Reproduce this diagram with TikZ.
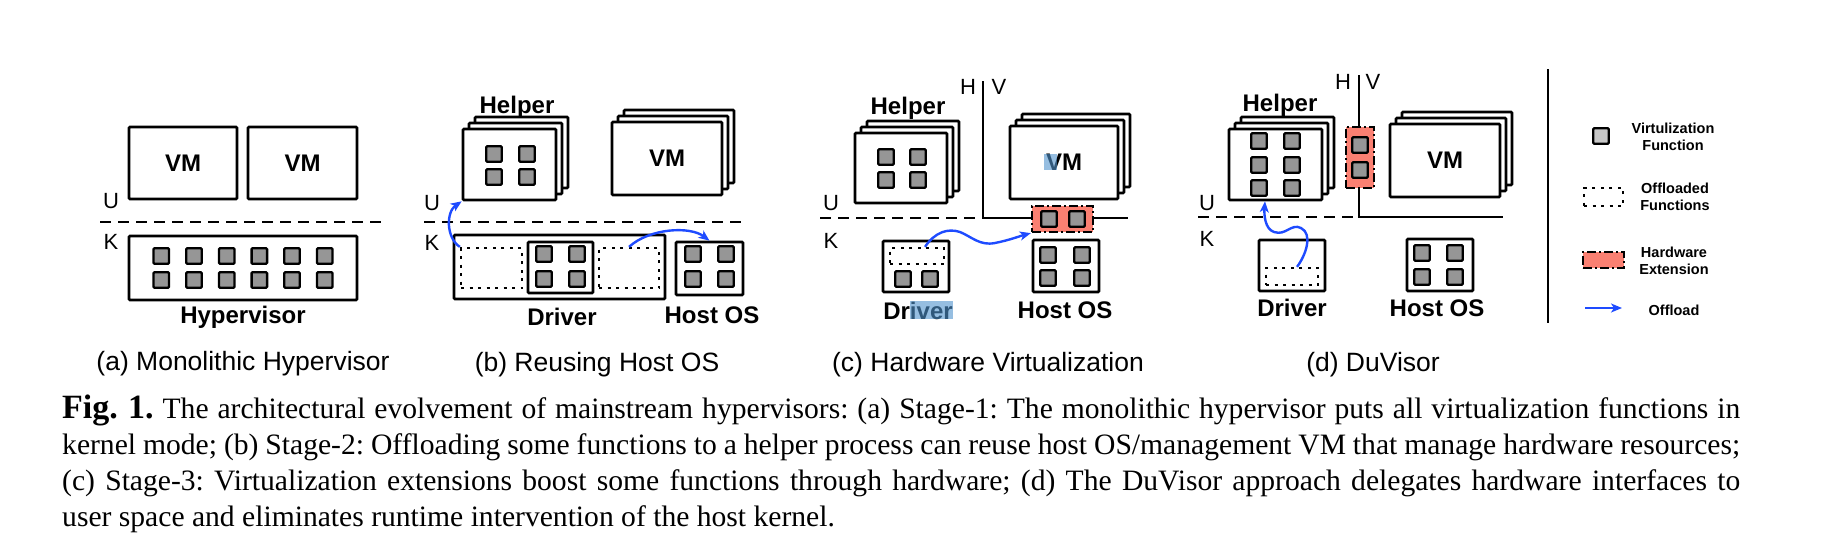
\documentclass[tikz,border=0pt]{standalone}
\usepackage{fontspec}
\setmainfont{Liberation Sans}
\newfontfamily\capfont{Liberation Serif}
\usetikzlibrary{arrows.meta}
\frenchspacing
\definecolor{fngray}{RGB}{150,150,150}
\definecolor{leggray}{RGB}{200,200,200}
\definecolor{hwred}{RGB}{250,128,114}
\definecolor{offblue}{RGB}{30,75,255}
\definecolor{hlblue}{RGB}{80,147,205}
\newcommand{\lblfont}{\fontsize{24}{28}\selectfont\bfseries}
\newcommand{\subfont}{\fontsize{26.5}{30}\selectfont}
\newcommand{\ukfont}{\fontsize{22}{26}\selectfont}
\newcommand{\legfont}{\fontsize{14.5}{17.5}\selectfont\bfseries}
\newcommand{\capsize}{\capfont\fontsize{29.6}{36}\selectfont}
\newcommand{\figlbl}{{\fontsize{34}{36}\selectfont\bfseries Fig. 1.}}
\tikzset{
  box/.style={draw, line width=2.6pt, fill=white, inner sep=0pt, rounded corners=1pt},
  fn/.style={draw, line width=2.3pt, fill=fngray, minimum size=15.5pt, inner sep=0pt, rounded corners=1pt},
  legfn/.style={fn, fill=leggray},
  dotbox/.style={draw, line width=2.3pt, dash pattern=on 3pt off 5.5pt, inner sep=0pt},
  hwbox/.style={draw, line width=2.3pt, fill=hwred, dash pattern=on 9pt off 3pt on 2pt off 3pt, inner sep=0pt},
  lbl/.style={font=\lblfont, anchor=base, inner sep=0pt},
  sub/.style={font=\subfont, anchor=base, inner sep=0pt},
  ukl/.style={font=\ukfont, anchor=base, inner sep=0pt},
  legtxt/.style={font=\legfont, align=center, inner sep=0pt},
  dashline/.style={line width=2.4pt, dash pattern=on 11pt off 7pt},
  solidline/.style={line width=2.4pt},
  offload/.style={draw=offblue, line width=2.4pt, -{Stealth[length=11pt,width=9pt,inset=3pt]}},
  hl/.style={fill=hlblue, fill opacity=0.6, draw=none},
  capline/.style={anchor=base west, inner sep=0pt, font=\capsize}
}
\newcommand{\stackbx}[6]{%
  \node[box, minimum width=#4pt, minimum height=#5pt] (#1C) at ({#2+12},{#3-12}) {};
  \node[box, minimum width=#4pt, minimum height=#5pt] (#1B) at ({#2+6},{#3-6}) {};
  \node[box, minimum width=#4pt, minimum height=#5pt, font=\lblfont] (#1) at (#2,#3) {#6};
}
\begin{document}
\begin{tikzpicture}[x=1pt,y=-1pt]
\useasboundingbox (0,0) rectangle (1823,557);

% ---------------- (a)
\node[box, minimum width=108pt, minimum height=72pt, font=\lblfont] (avm1) at (183,163) {VM};
\node[box, minimum width=109pt, minimum height=72pt, font=\lblfont] (avm2) at (302.5,163) {VM};
\coordinate (adl) at (100,222); \coordinate (adr) at (383,222);
\draw[dashline] (adl) -- (adr);
\node[box, minimum width=228pt, minimum height=64pt] (ahyp) at (243,268) {};
\foreach \i in {0,...,5} {
  \node[fn] (afa\i) at ({161.25+32.7*\i},256) {};
  \node[fn] (afb\i) at ({161.25+32.7*\i},280) {};
}
\node[lbl] (ahyplbl) at (243,323.6) {Hypervisor};
\node[ukl] (aU) at (111,208) {U};
\node[ukl] (aK) at (111,249) {K};
\node[sub] (asub) at (243,370) {(a) Monolithic Hypervisor};

% ---------------- (b)
\stackbx{bhelp}{509.5}{164.5}{93}{71}{}
\node[lbl] (bhelplbl) at (517,113.6) {Helper};
\foreach \xx/\yy [count=\k] in {494/154,527/154,494/177,527/177}
  \node[fn] (bhf\k) at (\xx,\yy) {};
\stackbx{bvm}{667}{158.5}{110}{73}{VM}
\coordinate (bdl) at (424,222); \coordinate (bdr) at (747,222);
\draw[dashline] (bdl) -- (bdr);
\node[ukl] (bU) at (432,210) {U};
\node[ukl] (bK) at (432,250) {K};
\node[box, minimum width=211pt, minimum height=64pt] (bdrv) at (559.5,267) {};
\node[dotbox, minimum width=61pt, minimum height=40pt] (bdot1) at (491.5,268) {};
\node[box, minimum width=65pt, minimum height=51pt] (binner) at (560.5,267.5) {};
\foreach \xx/\yy [count=\k] in {544/254,577/254,544/279,577/279}
  \node[fn] (bdf\k) at (\xx,\yy) {};
\node[dotbox, minimum width=60pt, minimum height=40pt] (bdot2) at (629,268) {};
\node[box, minimum width=67pt, minimum height=53pt] (bhost) at (709.5,268.5) {};
\foreach \xx/\yy [count=\k] in {693/254,726/254,693/279,726/279}
  \node[fn] (bof\k) at (\xx,\yy) {};
\node[lbl] (bdrvlbl) at (562,325.6) {Driver};
\node[lbl] (bhostlbl) at (712,323.6) {Host OS};
\draw[offload] (bdot1.north west) .. controls (446,238) and (446,212) .. (bhelp.south west);
\draw[offload] (bdot2.north) .. controls (650,228) and (690,226) .. (bhost.north);
\node[sub] (bsub) at (597,371) {(b) Reusing Host OS};

% ---------------- (c)
\coordinate (cvt) at (983,81); \coordinate (cvb) at (983,218);
\coordinate (crr) at (1128,218); \coordinate (cll) at (820,218);
\draw[dashline] (cll) -- (cvb);
\draw[solidline] (cvt) -- (cvb) -- (crr);
\node[ukl] (cH) at (968,94) {H};
\node[ukl] (cV) at (999,94) {V};
\stackbx{chelp}{901}{168}{92}{70}{}
\node[lbl] (chelplbl) at (908,114.6) {Helper};
\foreach \xx/\yy [count=\k] in {886/157,918/157,886/180,918/180}
  \node[fn] (chf\k) at (\xx,\yy) {};
\stackbx{cvm}{1064}{162.5}{108}{73}{VM}
\node[hwbox, minimum width=61pt, minimum height=26pt] (chw) at (1062.5,219) {};
\node[fn] (chw1) at (1049,219) {};
\node[fn] (chw2) at (1077,219) {};
\node[ukl] (cU) at (831,210) {U};
\node[ukl] (cK) at (831,248) {K};
\node[box, minimum width=66pt, minimum height=51pt] (cdrv) at (916,266.5) {};
\node[dotbox, minimum width=54pt, minimum height=16pt] (cdot) at (917,256) {};
\node[fn] (cdf1) at (903,279) {};
\node[fn] (cdf2) at (930,279) {};
\node[box, minimum width=66pt, minimum height=52pt] (chost) at (1066,266) {};
\foreach \xx/\yy [count=\k] in {1048/255,1082/255,1048/278,1082/278}
  \node[fn] (cof\k) at (\xx,\yy) {};
\node[lbl] (cdrvlbl) at (918,319.6) {Driver};
\node[lbl] (chostlbl) at (1065,318.6) {Host OS};
\draw[offload] ([xshift=8pt]cdot.north) .. controls (935,232) and (948,228) .. (960,232)
   .. controls (972,237) and (980,246) .. (995,243)
   .. controls (1010,240) and (1020,236) .. (chw.south west);
\node[sub] (csub) at (988,371) {(c) Hardware Virtualization};
\path[hl] (1044,154) rectangle (1057,170);
\path[hl] (910,301) rectangle (953,319);

% ---------------- (d)
\coordinate (dvt) at (1359,75); \coordinate (dvb) at (1359,217);
\coordinate (drr) at (1503,217); \coordinate (dll) at (1198,217);
\draw[dashline] (dll) -- (dvb);
\draw[solidline] (dvt) -- (dvb) -- (drr);
\node[ukl] (dH) at (1343,89) {H};
\node[ukl] (dV) at (1373,89) {V};
\node[hwbox, minimum width=28pt, minimum height=61pt] (dhw) at (1360,157.5) {};
\node[fn] (dhw1) at (1360,145) {};
\node[fn] (dhw2) at (1360,170) {};
\stackbx{dhelp}{1275.5}{164.5}{93}{71}{}
\node[lbl] (dhelplbl) at (1280,111.6) {Helper};
\foreach \xx/\yy [count=\k] in {1259/141,1292/141,1259/165,1292/165,1259/188,1292/188}
  \node[fn] (dhf\k) at (\xx,\yy) {};
\stackbx{dvm}{1445}{160.5}{110}{73}{VM}
\node[ukl] (dU) at (1207,210) {U};
\node[ukl] (dK) at (1207,246) {K};
\node[box, minimum width=66pt, minimum height=51pt] (ddrv) at (1292,265.5) {};
\node[dotbox, minimum width=52pt, minimum height=17pt] (ddot) at (1292,276.5) {};
\node[box, minimum width=66pt, minimum height=52pt] (dhost) at (1440,265) {};
\foreach \xx/\yy [count=\k] in {1422/253,1455/253,1422/277,1455/277}
  \node[fn] (dof\k) at (\xx,\yy) {};
\node[lbl] (ddrvlbl) at (1292,316.6) {Driver};
\node[lbl] (dhostlbl) at (1437,316.6) {Host OS};
\draw[offload] ([xshift=5pt]ddot.north) .. controls (1306,255) and (1313,234) .. (1301,228)
   .. controls (1291,223) and (1286,236) .. (1274,232)
   .. controls (1265,229) and (1264,215) .. ([xshift=-10.5pt]dhelp.south);
\node[sub] (dsub) at (1373,371) {(d) DuVisor};

% ---------------- separator and legend
\coordinate (sept) at (1548,69); \coordinate (sepb) at (1548,323);
\draw[solidline] (sept) -- (sepb);
\node[legfn] (lfn) at (1601,136) {};
\node[legtxt] (lfntxt) at (1673,137) {Virtulization\\Function};
\node[dotbox, minimum width=39pt, minimum height=18pt] (ldot) at (1603.5,197) {};
\node[legtxt] (ldottxt) at (1675,197) {Offloaded\\Functions};
\node[hwbox, minimum width=41pt, minimum height=16pt] (lhw) at (1603.5,260) {};
\node[legtxt] (lhwtxt) at (1674,261) {Hardware\\Extension};
\coordinate (la1) at (1585,308); \coordinate (la2) at (1622,308);
\draw[offload] (la1) -- (la2);
\node[legtxt] (loff) at (1674,310) {Offload};

% ---------------- caption
\node[capline] (cap1) at (62,418) {\hbox to 1678pt{\figlbl{} The architectural evolvement of mainstream hypervisors: (a) Stage-1: The monolithic hypervisor puts all virtualization functions in}};
\node[capline] (cap2) at (62,454) {\hbox to 1678pt{kernel mode; (b) Stage-2: Offloading some functions to a helper process can reuse host OS/management VM that manage hardware resources;}};
\node[capline] (cap3) at (62,490) {\hbox to 1678pt{(c) Stage-3: Virtualization extensions boost some functions through hardware; (d) The DuVisor approach delegates hardware interfaces to}};
\node[capline] (cap4) at (62,526) {user space and eliminates runtime intervention of the host kernel.};
\end{tikzpicture}
\end{document}
